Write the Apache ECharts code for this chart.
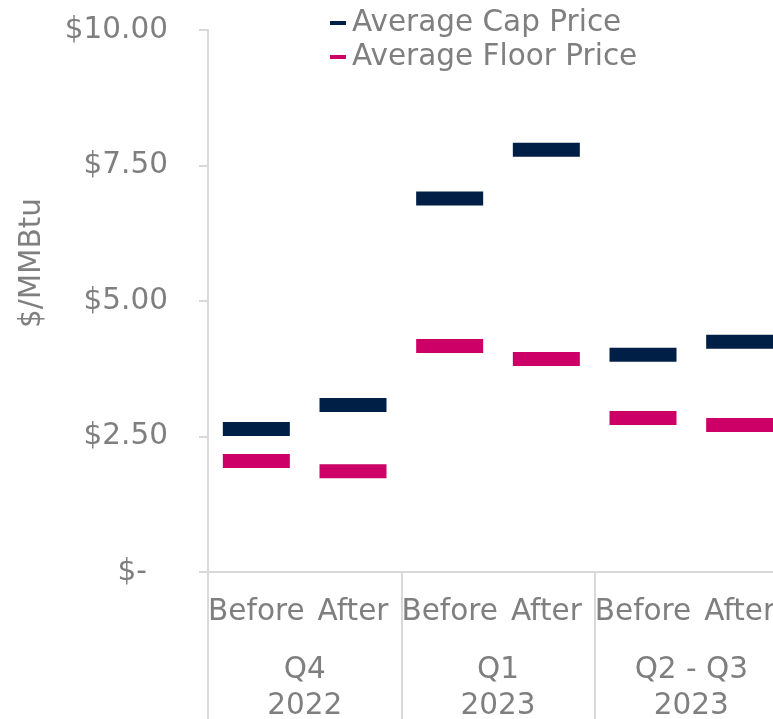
<!DOCTYPE html>
<html>
<head>
    <meta charset="UTF-8">
    <title>Cap and Floor Prices</title>
    <script type="text/javascript" src="https://cdn.jsdelivr.net/npm/echarts@6/dist/echarts.min.js"></script>
    <style>
        body,html{
            margin: 0;
            padding: 0;
            width: 773px;
            height: 719px;
            background: #fff;
            overflow: hidden;
        }
        #chart{
            width: 773px;
            height: 719px;
        }
    </style>
</head>
<body>
<div id="chart"></div>
<script>
    // data
    var periods = ['Before', 'After', 'Before', 'After', 'Before', 'After'];
    var groups = ['Q4\n2022', 'Q1\n2023', 'Q2 - Q3\n2023'];
    var capPrice = [2.64, 3.08, 6.89, 7.79, 4.01, 4.25];
    var floorPrice = [2.05, 1.86, 4.17, 3.93, 2.84, 2.71];
    var yTicks = [0, 2.5, 5, 7.5, 10];

    var gray = '#7f7f7f';
    var lineGray = '#d9d9d9';
    var font = 'DejaVu Sans';
    var fs = 29.5;

    var chart = echarts.init(document.getElementById('chart'));
    var option = {
        animation: false,
        textStyle: { fontFamily: font },
        legend: {
            orient: 'vertical',
            left: 325,
            top: 3,
            itemGap: 4,
            icon: 'rect',
            itemWidth: 16,
            itemHeight: 4,
            textStyle: { color: gray, fontSize: fs, lineHeight: 30, fontFamily: font, padding: [0, 0, 0, 1] },
            data: ['Average Cap Price', 'Average Floor Price']
        },
        // the plot runs on past the right edge of the picture
        grid: { left: 208, width: 580, top: 30, bottom: 147, outerBoundsMode: 'none', containLabel: false },
        xAxis: [
            {
                type: 'category',
                data: periods,
                position: 'bottom',
                axisLine: { show: true, lineStyle: { color: lineGray, width: 2 } },
                axisTick: { show: false },
                axisLabel: { color: gray, fontSize: fs, margin: 25, interval: 0, fontFamily: font }
            },
            {
                type: 'category',
                data: groups,
                position: 'bottom',
                axisLine: { show: false },
                axisTick: { show: true, length: 150, lineStyle: { color: lineGray, width: 2 } },
                axisLabel: { color: gray, fontSize: fs, lineHeight: 36, margin: 80, interval: 0, fontFamily: font }
            }
        ],
        yAxis: {
            type: 'value',
            min: yTicks[0],
            max: yTicks[yTicks.length - 1],
            interval: 2.5,
            name: '$/MMBtu',
            nameLocation: 'middle',
            nameGap: 161,
            nameRotate: 90,
            nameTextStyle: { color: gray, fontSize: fs, fontFamily: font, padding: [0, 0, 0, 76] },
            axisLine: { show: true, lineStyle: { color: lineGray, width: 2 } },
            axisTick: { show: true, length: 9, lineStyle: { color: lineGray, width: 2 } },
            splitLine: { show: false },
            axisLabel: {
                color: gray,
                fontSize: fs,
                margin: 40,
                fontFamily: font,
                formatter: function (v) {
                    if (v === 0) return '{z|$-}';
                    return '$' + v.toFixed(2);
                },
                rich: { z: { color: gray, fontSize: fs, fontFamily: font, padding: [0, 21, 0, 0] } }
            }
        },
        series: [
            {
                name: 'Average Cap Price',
                type: 'scatter',
                xAxisIndex: 0,
                symbol: 'rect',
                symbolSize: [67, 14],
                itemStyle: { color: '#001f46', opacity: 1 },
                data: capPrice
            },
            {
                name: 'Average Floor Price',
                type: 'scatter',
                xAxisIndex: 0,
                symbol: 'rect',
                symbolSize: [67, 14],
                itemStyle: { color: '#cc0066', opacity: 1 },
                data: floorPrice
            }
        ]
    };
    chart.setOption(option);
</script>
</body>
</html>
